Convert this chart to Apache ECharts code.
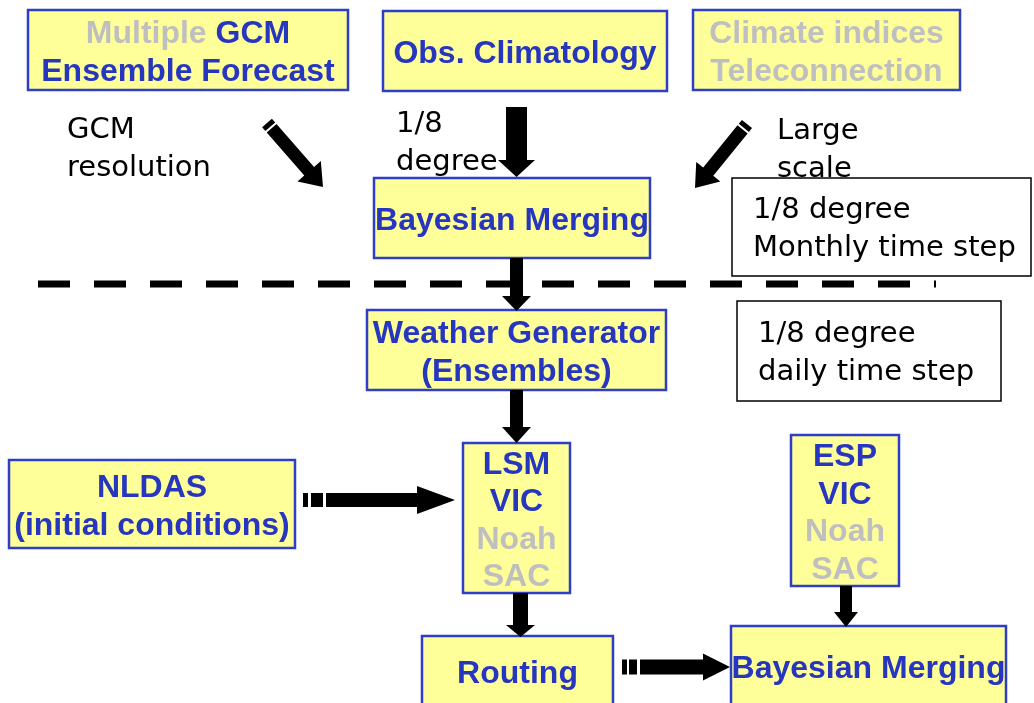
<!DOCTYPE html>
<html>
<head>
<meta charset="utf-8">
<script src="https://cdn.jsdelivr.net/npm/echarts@6/dist/echarts.min.js"></script>
<style>
html, body { margin: 0; padding: 0; background: #fff; }
#main { width: 1034px; height: 703px; }
</style>
</head>
<body>
<div id="main"></div>
<script>
// boxes of the flow, {g|...} = grey text
var boxText = [
	['{g|Multiple} GCM', 'Ensemble Forecast'],
	['Obs. Climatology'],
	['{g|Climate indices}', '{g|Teleconnection}'],
	['Bayesian Merging'],
	['Weather Generator', '(Ensembles)'],
	['LSM', 'VIC', '{g|Noah}', '{g|SAC}'],
	['NLDAS', '(initial conditions)'],
	['ESP', 'VIC', '{g|Noah}', '{g|SAC}'],
	['Routing'],
	['Bayesian Merging']
];
var boxExtent = [
	[28, 10, 348, 90],
	[383, 11, 667, 91],
	[693, 10, 960, 90],
	[374, 178, 650, 258],
	[367, 310, 666, 390],
	[463, 443, 570, 593],
	[9, 460, 295, 548],
	[791, 435, 899, 586],
	[422, 636, 613, 706],
	[731, 626, 1006, 706]
];

// handwritten notes
var noteText = [
	['GCM', 'resolution'],
	['1/8', 'degree'],
	['Large', 'scale'],
	['1/8 degree', 'Monthly time step'],
	['1/8 degree', 'daily time step']
];
var noteAnchor = [[67, 130], [396, 124], [777, 131], [753, 210], [758, 334]];
var frameExtent = [[732, 178, 1031, 276], [737, 301, 1001, 401]];

// arrows: tail x, tail y, tip x, tip y
var arrowPath = [
	[267, 123, 323, 187],
	[747, 124, 695, 188],
	[516.5, 107, 516.5, 177],
	[516.5, 258, 516.5, 311],
	[516.5, 390, 516.5, 443],
	[520.5, 593, 520.5, 637],
	[846, 586, 846, 627],
	[303, 500, 455, 500],
	[622, 667, 730, 667]
];
var dashPath = [[38, 284], [936, 284]];

var chart = echarts.init(document.getElementById('main'));

var blue = '#2636bf';
var grey = '#bfbfbf';
var boxFont = 'bold 32px "Liberation Sans", Arial, sans-serif';
var noteFont = '29px "DejaVu Sans", sans-serif';
var lineGap = 37.5;
var noteGap = 38;

// shaft width, head width, head length, gaps near the tail
var arrowStyle = [
	[13, 31, 21, [[5, 7]]],
	[13, 31, 21, [[5, 7]]],
	[21, 37, 17, []],
	[13, 29, 15, []],
	[13, 29, 16, []],
	[15, 29, 12, []],
	[12, 24, 15, []],
	[14, 28, 38, [[5, 8], [20, 23]]],
	[15, 27, 27, [[5, 7], [15, 18]]]
];

function renderBox(params, api) {
	var p0 = api.coord([api.value(0), api.value(1)]);
	var p1 = api.coord([api.value(2), api.value(3)]);
	var lines = boxText[params.dataIndex];
	var cx = (p0[0] + p1[0]) / 2;
	var cy = (p0[1] + p1[1]) / 2 + 3;
	var children = [{
		type: 'rect',
		shape: { x: p0[0], y: p0[1], width: p1[0] - p0[0], height: p1[1] - p0[1] },
		style: { fill: '#ffff99', stroke: '#2e3ec6', lineWidth: 2.5 }
	}];
	lines.forEach(function(t, i) {
		children.push({
			type: 'text',
			style: {
				text: t,
				x: cx,
				y: cy + (i - (lines.length - 1) / 2) * lineGap,
				font: boxFont,
				fill: blue,
				align: 'center',
				verticalAlign: 'middle',
				rich: { g: { fill: grey, font: boxFont } }
			}
		});
	});
	return { type: 'group', children: children };
}

function renderFrame(params, api) {
	var p0 = api.coord([api.value(0), api.value(1)]);
	var p1 = api.coord([api.value(2), api.value(3)]);
	return {
		type: 'rect',
		shape: { x: p0[0], y: p0[1], width: p1[0] - p0[0], height: p1[1] - p0[1] },
		style: { fill: '#fff', stroke: '#000', lineWidth: 1.5 }
	};
}

function renderNote(params, api) {
	var p = api.coord([api.value(0), api.value(1)]);
	var lines = noteText[params.dataIndex];
	return {
		type: 'group',
		children: lines.map(function(t, i) {
			return {
				type: 'text',
				style: {
					text: t, x: p[0], y: p[1] + i * noteGap,
					font: noteFont, fill: '#000',
					align: 'left', verticalAlign: 'middle'
				}
			};
		})
	};
}

function renderArrow(params, api) {
	var a = api.coord([api.value(0), api.value(1)]);
	var b = api.coord([api.value(2), api.value(3)]);
	var st = arrowStyle[params.dataIndex];
	var dx = b[0] - a[0], dy = b[1] - a[1];
	var len = Math.sqrt(dx * dx + dy * dy);
	var ux = dx / len, uy = dy / len;
	var nx = -uy, ny = ux;
	function pt(s, w) {
		return [a[0] + ux * s + nx * w, a[1] + uy * s + ny * w];
	}
	var hw = st[0] / 2, HW = st[1] / 2, neck = len - st[2];
	var children = [];
	var start = 0;
	st[3].forEach(function(g) {
		children.push({
			type: 'polygon',
			shape: { points: [pt(start, -hw), pt(g[0], -hw), pt(g[0], hw), pt(start, hw)] },
			style: { fill: '#000' }
		});
		start = g[1];
	});
	children.push({
		type: 'polygon',
		shape: {
			points: [pt(start, -hw), pt(neck, -hw), pt(neck, -HW), pt(len, 0),
				pt(neck, HW), pt(neck, hw), pt(start, hw)]
		},
		style: { fill: '#000' }
	});
	return { type: 'group', children: children };
}

var option = {
	animation: false,
	backgroundColor: '#fff',
	grid: { left: 0, right: 0, top: 0, bottom: 0 },
	xAxis: { type: 'value', min: 0, max: 1034, show: false },
	yAxis: { type: 'value', min: 0, max: 703, inverse: true, show: false },
	series: [{
		type: 'custom',
		name: 'boxes',
		clip: false,
		renderItem: renderBox,
		encode: { x: [0, 2], y: [1, 3] },
		data: boxExtent
	}, {
		type: 'custom',
		name: 'frames',
		clip: false,
		renderItem: renderFrame,
		encode: { x: [0, 2], y: [1, 3] },
		data: frameExtent
	}, {
		type: 'custom',
		name: 'notes',
		clip: false,
		renderItem: renderNote,
		encode: { x: 0, y: 1 },
		data: noteAnchor
	}, {
		type: 'line',
		name: 'divider',
		symbol: 'none',
		data: dashPath,
		lineStyle: { color: '#000', width: 7, type: [32, 24], cap: 'butt' }
	}, {
		type: 'custom',
		name: 'arrows',
		clip: false,
		renderItem: renderArrow,
		encode: { x: [0, 2], y: [1, 3] },
		data: arrowPath
	}]
};

chart.setOption(option);
</script>
</body>
</html>
